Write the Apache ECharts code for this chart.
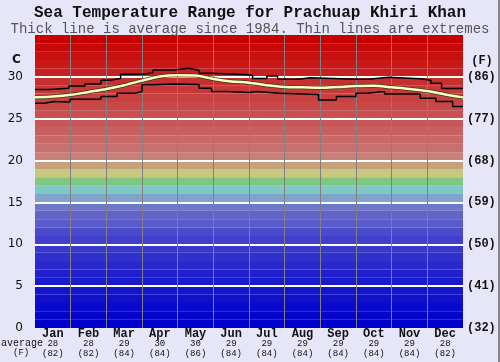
<!DOCTYPE html>
<html><head><meta charset="utf-8">
<script src="https://cdn.jsdelivr.net/npm/echarts@6/dist/echarts.min.js"></script>
<style>html,body{margin:0;padding:0;background:#e6e6f8;}#c{width:500px;height:362px;}</style>
</head><body><div id="c"></div>
<script>
const months = ['Jan','Feb','Mar','Apr','May','Jun','Jul','Aug','Sep','Oct','Nov','Dec'];
const monthAvgC = [28,28,29,30,30,29,29,29,29,29,29,28];
const monthAvgF = [82,82,84,84,86,84,84,84,84,84,84,82];
const celsiusTicks = [0,5,10,15,20,25,30];
const fahrenheitTicks = ['(32)','(41)','(50)','(59)','(68)','(77)','(86)'];
// average: [month position, °C]
const avgLine = [[0,27.55],[0.5,27.65],[1,27.85],[1.5,28.2],[2,28.55],[2.5,29.0],[3,29.55],[3.5,30.05],[4,30.2],[4.5,30.15],[5,29.75],[5.5,29.45],[6,29.3],[6.5,29.0],[7,28.8],[7.5,28.75],[8,28.7],[8.5,28.8],[9,28.9],[9.5,28.95],[10,28.75],[10.5,28.55],[11,28.3],[11.5,27.9],[12,27.55]];
// extremes: [segment start (months), °C]
const maxLine = [[0,28.5],[0.4,28.65],[0.95,28.9],[1.4,29.15],[1.85,29.6],[2.1,29.8],[2.4,30.3],[3.0,30.45],[3.3,30.83],[3.9,31.03],[4.3,30.8],[4.6,30.43],[4.95,30.24],[6.0,30.15],[6.1,29.8],[6.5,30.1],[6.8,29.72],[7.4,29.9],[7.7,29.7],[9.0,29.72],[9.35,29.95],[9.9,29.78],[10.8,29.6],[11.1,29.24],[11.4,28.6],[12,28.6]];
const minLine = [[0,26.85],[0.25,27.05],[0.55,27.0],[0.98,27.33],[1.85,27.65],[2.3,28.05],[2.8,28.24],[3.0,29.05],[3.3,29.15],[3.9,29.1],[4.6,28.64],[4.95,28.24],[5.4,28.12],[6.0,28.24],[6.2,28.05],[6.85,27.89],[7.95,27.25],[8.45,27.65],[9.0,28.05],[9.3,28.24],[9.8,27.96],[10.8,27.45],[11.24,27.05],[11.71,26.45],[12,26.45]];

const bandColors = ['#0000cc','#0505cc','#0a0acc','#1010cc','#1515cc','#1a1acc','#2020cc','#2828cc','#3030cc','#3838cc',
 '#4040cc','#4a4acc','#5a5ac8','#6464c8','#6c78c8','#80a4c8','#80c8c8','#80c880','#c8c880','#c8a07c',
 '#c88078','#c87070','#c86868','#c86060','#c85858','#c85050','#c84848','#c84040','#c83838','#c83030',
 '#c82020','#c81818','#c81010','#c80808','#c80000'];

const mono = 'Liberation Mono';
const chart = echarts.init(document.getElementById('c'), null, {renderer:'canvas'});
const bands = bandColors.map((c,i)=>[{yAxis:i, itemStyle:{color:c}},{yAxis:i+1}]);
const hLines = celsiusTicks.filter(v=>v>0).map(v=>({yAxis:v}));
const vLines = months.slice(1).map((m,i)=>({xAxis:i+1}));
chart.setOption({
  animation:false,
  backgroundColor:'#e6e6f8',
  title:[
    {text:'Sea Temperature Range for Prachuap Khiri Khan', left:'center', top:0,
     textStyle:{fontFamily:mono, fontWeight:'bold', fontSize:16, color:'#111'}},
    {text:'Thick line is average since 1984. Thin lines are extremes', left:'center', top:17,
     textStyle:{fontFamily:mono, fontWeight:'normal', fontSize:14, color:'#555'}}
  ],
  grid:{left:35, right:37, top:35, bottom:34},
  xAxis:[
    {type:'value', min:0, max:12, show:false},
    {type:'category', data:months, boundaryGap:true, position:'bottom',
     axisLine:{show:false}, axisTick:{show:false}, splitLine:{show:false},
     axisLabel:{margin:1, interval:0,
       formatter:(v,i)=>'{m|'+v+'}\n{v|'+monthAvgC[i]+'}\n{f|('+monthAvgF[i]+')}',
       rich:{m:{fontFamily:mono,fontWeight:'bold',fontSize:12,lineHeight:10,color:'#111'},
             v:{fontFamily:mono,fontSize:9,lineHeight:10,color:'#111'},
             f:{fontFamily:mono,fontSize:9,lineHeight:10,color:'#111'}}}}
  ],
  yAxis:[
    {type:'value', min:0, max:35, interval:5, axisLine:{show:false}, axisTick:{show:false}, splitLine:{show:false},
     axisLabel:{margin:12, fontFamily:'DejaVu Sans', fontSize:12, color:'#111',
       formatter:v=>celsiusTicks.includes(v)?String(v):''}},
    {type:'value', min:0, max:35, interval:5, position:'right', axisLine:{show:false}, axisTick:{show:false}, splitLine:{show:false},
     axisLabel:{margin:4, fontFamily:mono, fontWeight:'bold', fontSize:12, color:'#111',
       formatter:v=>{const i=celsiusTicks.indexOf(v);return i>=0?fahrenheitTicks[i]:'';}}}
  ],
  graphic:[
    {type:'text', left:12, top:54, style:{text:'C', font:'bold 12px "DejaVu Sans"', fill:'#111'}},
    {type:'text', left:464, top:55, style:{text:' (F)', font:'bold 12px "Liberation Mono"', fill:'#111'}},
    {type:'text', left:1, top:338, style:{text:'average', font:'10px "Liberation Mono"', fill:'#111'}},
    {type:'text', left:13, top:348, style:{text:'(F)', font:'9px "Liberation Mono"', fill:'#111'}},
    {type:'rect', shape:{x:498, y:0, width:2, height:362}, style:{fill:'#888'}}
  ],
  series:[
    {type:'line', xAxisIndex:0, yAxisIndex:0, data:[], z:1, silent:true,
     markArea:{silent:true, data:bands}},
    {type:'line', xAxisIndex:0, yAxisIndex:0, data:[], z:2, silent:true,
     markLine:{silent:true, symbol:'none', label:{show:false}, lineStyle:{color:'#ffffff', width:2, type:'solid'}, data:hLines}},
    {type:'line', xAxisIndex:0, yAxisIndex:0, data:[], z:2, silent:true,
     markLine:{silent:true, symbol:'none', label:{show:false}, lineStyle:{color:'#808080', width:1, type:'solid'}, data:vLines}},
    {type:'line', xAxisIndex:0, yAxisIndex:0, data:maxLine, step:'end', symbol:'none', z:10,
     lineStyle:{color:'#000', width:1.5}},
    {type:'line', xAxisIndex:0, yAxisIndex:0, data:minLine, step:'end', symbol:'none', z:10,
     lineStyle:{color:'#000', width:1.5}},
    {type:'line', xAxisIndex:0, yAxisIndex:0, data:avgLine, smooth:0.3, symbol:'none', z:11,
     lineStyle:{color:'#3a3a20', width:4}},
    {type:'line', xAxisIndex:0, yAxisIndex:0, data:avgLine, smooth:0.3, symbol:'none', z:12,
     lineStyle:{color:'#ffffc0', width:2.5}}
  ]
});
</script></body></html>
